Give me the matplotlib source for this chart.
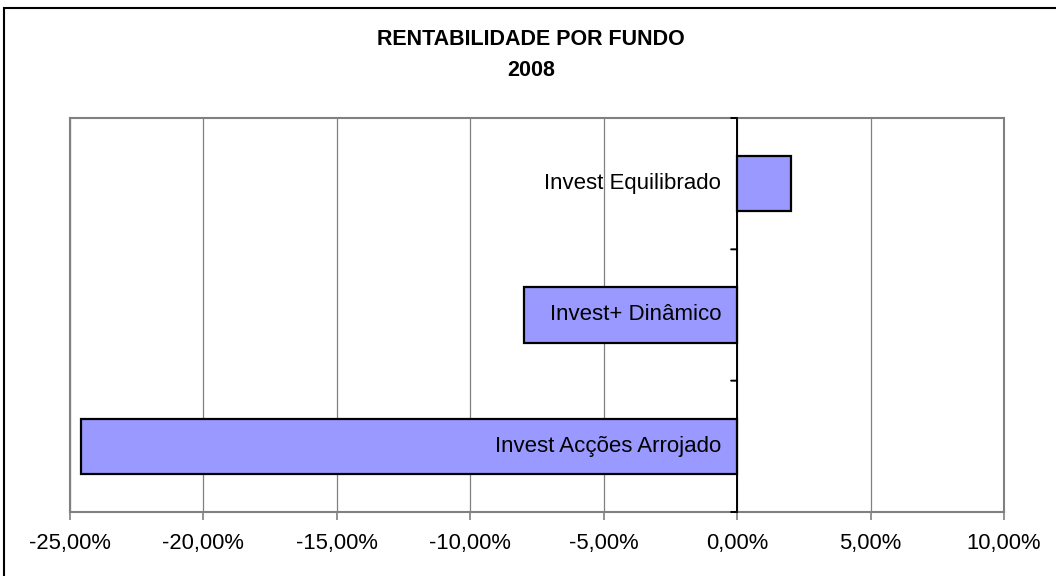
import matplotlib.pyplot as plt
from matplotlib.ticker import FuncFormatter, MultipleLocator
from matplotlib.patches import Rectangle

plt.rcParams['font.family'] = ['Liberation Sans', 'DejaVu Sans']

# data (bottom to top)
funds = ["Invest Acções Arrojado", "Invest+ Dinâmico", "Invest Equilibrado"]
returns = [-24.6, -8.0, 2.0]
title = "RENTABILIDADE POR FUNDO\n2008"

fig = plt.figure(figsize=(10.56, 5.76), dpi=100)
ax = fig.add_axes([70 / 1056, 1 - 512 / 576, 934 / 1056, 394 / 576])

ypos = list(range(len(funds)))
ax.barh(ypos, returns, height=0.42, color='#9999FF', edgecolor='black',
        linewidth=1.6, zorder=3)

# labels placed just left of the zero line
for y, name in zip(ypos, funds):
    ax.annotate(name, xy=(0, y), xytext=(-16, 0), textcoords='offset pixels',
                ha='right', va='center', fontsize=16, zorder=4)

ax.set_xlim(-25, 10)
ax.set_ylim(-0.5, len(funds) - 0.5)
ax.xaxis.set_major_locator(MultipleLocator(5))
ax.xaxis.set_major_formatter(FuncFormatter(lambda v, p: ('%.2f%%' % v).replace('.', ',')))
ax.set_yticks([])
ax.tick_params(axis='x', direction='out', length=6, width=1.2, color='#808080',
               labelsize=15.8, pad=9)
ax.grid(axis='x', color='#808080', linewidth=0.9, zorder=0)
for s in ax.spines.values():
    s.set_color('#808080')
    s.set_linewidth(1.5)

# zero axis with category separator ticks
ax.axvline(0, color='black', linewidth=1.4, zorder=2)
for b in [i - 0.5 for i in range(len(funds) + 1)]:
    ax.annotate('', xy=(0, b), xytext=(-6, 0), textcoords='offset pixels',
                arrowprops=dict(arrowstyle='-', color='black', lw=1.4,
                                shrinkA=0, shrinkB=0), annotation_clip=False)

fig.text(531 / 1056, 1 - 55 / 576, title, ha='center', va='center',
         fontsize=15.5, fontweight='bold', linespacing=1.6)

# outer chart border (only top and left visible in the crop)
fig.patches.append(Rectangle((4 / 1056, -0.1), 1.2, (576 - 8) / 576 + 0.1,
                             transform=fig.transFigure, fill=False,
                             edgecolor='black', linewidth=1.5))

fig.savefig('out.png', dpi=100)
